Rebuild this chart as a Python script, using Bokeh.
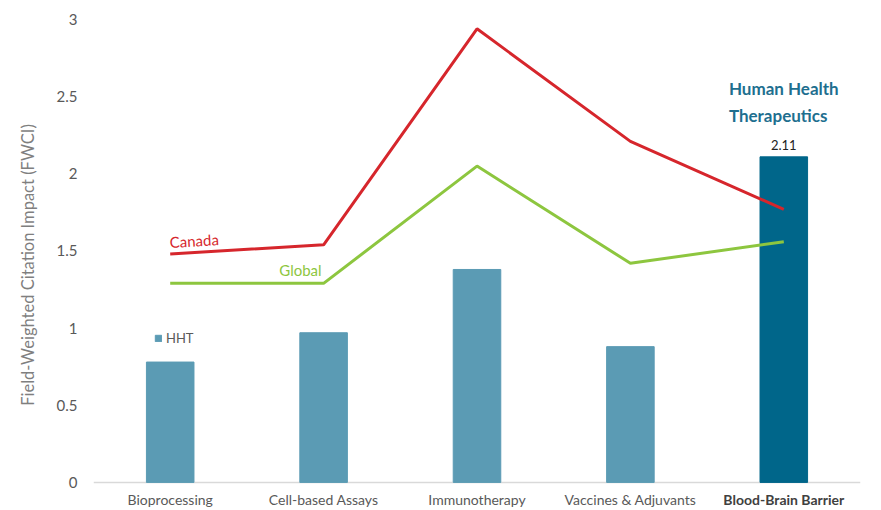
from bokeh.plotting import figure
from bokeh.models import (ColumnDataSource, LabelSet, Legend, LegendItem,
                          SingleIntervalTicker, FactorRange, Range1d, Span)
from bokeh.core.properties import value
from bokeh.embed import file_html
from bokeh.resources import INLINE

categories = ["Bioprocessing", "Cell-based Assays", "Immunotherapy",
              "Vaccines & Adjuvants", "Blood-Brain Barrier"]
hht = [0.78, 0.97, 1.38, 0.88, 2.11]
canada = [1.48, 1.54, 2.94, 2.21, 1.77]
global_ = [1.29, 1.29, 2.05, 1.42, 1.56]
y_ticks_labels = {0: "0", 1: "1", 2: "2", 3: "3"}

FONT = "Lato"
GRAY = "#595959"
BAR = "#5B9BB4"
BAR_HL = "#00668A"
RED = "#D6262C"
GREEN = "#8DC63F"
TITLE_C = "#1E6F8F"

n = len(categories)
colors = [BAR] * (n - 1) + [BAR_HL]
styles = ["normal"] * (n - 1) + ["bold"]
label_colors = [GRAY] * (n - 1) + ["#404040"]
src = ColumnDataSource(dict(x=categories, hht=hht, canada=canada,
                            glob=global_, color=colors, zero=[0] * n,
                            style=styles, lcolor=label_colors))

# frame extends below 0 so that the category labels (drawn as text) stay inside it
p = figure(x_range=FactorRange(*categories, range_padding=0),
           y_range=Range1d(-0.182, 3),
           width=881, height=510, output_backend="svg", toolbar_location=None,
           min_border_left=93, min_border_right=21, min_border_top=19,
           min_border_bottom=0)
p.outline_line_color = None
p.xgrid.visible = False
p.ygrid.visible = False
p.background_fill_color = "white"
p.xaxis.visible = False

p.add_layout(Span(location=0, dimension="width", line_color="#D9D9D9",
                  line_width=1.5, level="underlay"))

bars = p.vbar(x="x", top="hht", width=0.31, color="color", source=src)
p.line(x="x", y="canada", color=RED, line_width=3, source=src)
p.line(x="x", y="glob", color=GREEN, line_width=3, source=src)

# category labels
p.text(x="x", y="zero", text="x", source=src, text_align="center",
       text_baseline="top", y_offset=9, text_font=value(FONT),
       text_font_size="14px", text_font_style="style", text_color="lcolor")

# y axis
p.yaxis.ticker = SingleIntervalTicker(interval=0.5)
p.yaxis.major_label_overrides = y_ticks_labels
p.yaxis.axis_line_color = None
p.yaxis.major_tick_line_color = None
p.yaxis.minor_tick_line_color = None
p.yaxis.major_label_standoff = 10
p.yaxis.major_label_text_font = FONT
p.yaxis.major_label_text_font_size = "15px"
p.yaxis.major_label_text_color = GRAY
p.yaxis.axis_label = "Field-Weighted Citation Impact (FWCI)"
p.yaxis.axis_label_text_font = FONT
p.yaxis.axis_label_text_font_size = "16.5px"
p.yaxis.axis_label_text_font_style = "normal"
p.yaxis.axis_label_text_color = "#7F7F7F"
p.yaxis.axis_label_standoff = 16

last = ColumnDataSource(dict(x=categories[-1:], top=hht[-1:],
                             val=["%.2f" % hht[-1]],
                             title=["Human Health\nTherapeutics"]))
p.add_layout(LabelSet(x="x", y="top", text="val", source=last, text_align="center",
                      text_baseline="bottom", y_offset=7, text_font=value(FONT),
                      text_font_size="13px", text_color="#222222"))
p.add_layout(LabelSet(x="x", y="top", text="title", source=last, text_align="center",
                      text_baseline="bottom", y_offset=31, text_font=value(FONT),
                      text_font_size="17px", text_font_style=value("bold"),
                      text_color=TITLE_C, text_line_height=1.3))

# series labels
lab = ColumnDataSource(dict(cx=categories[:1], cy=canada[:1], ct=["Canada"],
                            gx=categories[1:2], gy=global_[1:2], gt=["Global"]))
p.add_layout(LabelSet(x="cx", y="cy", text="ct", source=lab, text_align="left",
                      text_baseline="bottom", y_offset=3, angle=0.06,
                      text_font=value(FONT), text_font_size="15px", text_color=RED))
p.add_layout(LabelSet(x="gx", y="gy", text="gt", source=lab, text_align="right",
                      text_baseline="bottom", y_offset=4, x_offset=-2,
                      text_font=value(FONT), text_font_size="15px", text_color=GREEN))

legend = Legend(items=[LegendItem(label="HHT", renderers=[bars], index=0)],
                location=(61, 164), glyph_width=8, glyph_height=8,
                label_standoff=4, padding=0, margin=0, spacing=0,
                border_line_color=None, background_fill_alpha=0,
                label_text_font=FONT, label_text_font_size="13px",
                label_text_color=GRAY, label_height=12)
p.add_layout(legend)

open("out.html", "w").write(file_html(p, INLINE))
